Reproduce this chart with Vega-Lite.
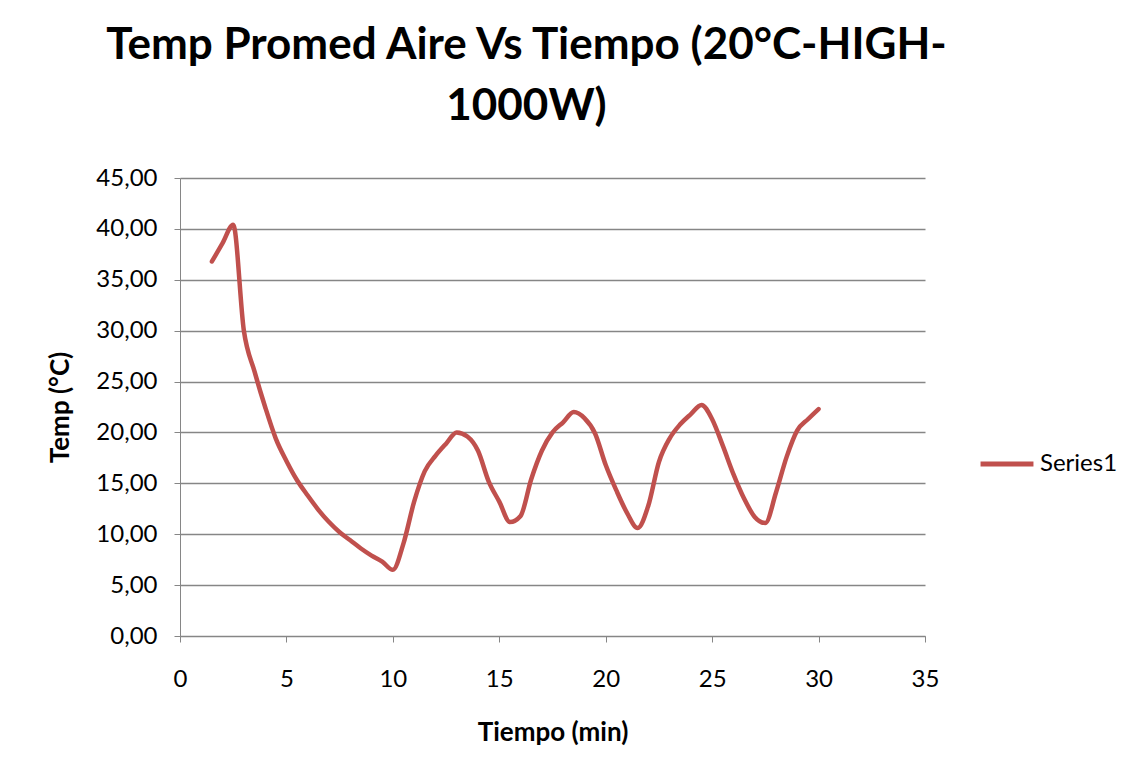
{
  "$schema": "https://vega.github.io/schema/vega-lite/v6.json",
  "width": 745,
  "height": 458,
  "autosize": {"type": "none"},
  "padding": {"left": 180, "top": 178, "right": 217, "bottom": 140},
  "background": "white",
  "title": {
    "text": ["Temp Promed Aire Vs Tiempo (20°C-HIGH-", "1000W)"],
    "font": "Lato",
    "fontSize": 44,
    "fontWeight": "bold",
    "color": "black",
    "anchor": "middle",
    "dx": -26,
    "offset": 37,
    "lineHeight": 61
  },
  "data": {
    "values": [
      {"t": 1.5, "temp": 36.8, "series": "Series1"},
      {"t": 2.0, "temp": 38.6, "series": "Series1"},
      {"t": 2.5, "temp": 40.4, "series": "Series1"},
      {"t": 3.0, "temp": 30.0, "series": "Series1"},
      {"t": 3.5, "temp": 26.0, "series": "Series1"},
      {"t": 4.0, "temp": 22.5, "series": "Series1"},
      {"t": 4.5, "temp": 19.4, "series": "Series1"},
      {"t": 5.0, "temp": 17.2, "series": "Series1"},
      {"t": 5.5, "temp": 15.3, "series": "Series1"},
      {"t": 6.0, "temp": 13.8, "series": "Series1"},
      {"t": 6.5, "temp": 12.4, "series": "Series1"},
      {"t": 7.0, "temp": 11.2, "series": "Series1"},
      {"t": 7.5, "temp": 10.2, "series": "Series1"},
      {"t": 8.0, "temp": 9.4, "series": "Series1"},
      {"t": 8.5, "temp": 8.6, "series": "Series1"},
      {"t": 9.0, "temp": 7.9, "series": "Series1"},
      {"t": 9.5, "temp": 7.3, "series": "Series1"},
      {"t": 10.0, "temp": 6.5, "series": "Series1"},
      {"t": 10.5, "temp": 9.1, "series": "Series1"},
      {"t": 11.0, "temp": 13.2, "series": "Series1"},
      {"t": 11.5, "temp": 16.2, "series": "Series1"},
      {"t": 12.0, "temp": 17.7, "series": "Series1"},
      {"t": 12.5, "temp": 18.9, "series": "Series1"},
      {"t": 13.0, "temp": 20.0, "series": "Series1"},
      {"t": 13.5, "temp": 19.6, "series": "Series1"},
      {"t": 14.0, "temp": 18.2, "series": "Series1"},
      {"t": 14.5, "temp": 15.2, "series": "Series1"},
      {"t": 15.0, "temp": 13.2, "series": "Series1"},
      {"t": 15.5, "temp": 11.2, "series": "Series1"},
      {"t": 16.0, "temp": 11.8, "series": "Series1"},
      {"t": 16.5, "temp": 15.4, "series": "Series1"},
      {"t": 17.0, "temp": 18.2, "series": "Series1"},
      {"t": 17.5, "temp": 20.0, "series": "Series1"},
      {"t": 18.0, "temp": 21.0, "series": "Series1"},
      {"t": 18.5, "temp": 22.0, "series": "Series1"},
      {"t": 19.0, "temp": 21.4, "series": "Series1"},
      {"t": 19.5, "temp": 19.9, "series": "Series1"},
      {"t": 20.0, "temp": 16.8, "series": "Series1"},
      {"t": 20.5, "temp": 14.3, "series": "Series1"},
      {"t": 21.0, "temp": 12.1, "series": "Series1"},
      {"t": 21.5, "temp": 10.6, "series": "Series1"},
      {"t": 22.0, "temp": 12.8, "series": "Series1"},
      {"t": 22.5, "temp": 17.1, "series": "Series1"},
      {"t": 23.0, "temp": 19.4, "series": "Series1"},
      {"t": 23.5, "temp": 20.8, "series": "Series1"},
      {"t": 24.0, "temp": 21.8, "series": "Series1"},
      {"t": 24.5, "temp": 22.7, "series": "Series1"},
      {"t": 25.0, "temp": 21.3, "series": "Series1"},
      {"t": 25.5, "temp": 18.7, "series": "Series1"},
      {"t": 26.0, "temp": 15.9, "series": "Series1"},
      {"t": 26.5, "temp": 13.5, "series": "Series1"},
      {"t": 27.0, "temp": 11.7, "series": "Series1"},
      {"t": 27.5, "temp": 11.1, "series": "Series1"},
      {"t": 28.0, "temp": 14.1, "series": "Series1"},
      {"t": 28.5, "temp": 17.6, "series": "Series1"},
      {"t": 29.0, "temp": 20.2, "series": "Series1"},
      {"t": 29.5, "temp": 21.3, "series": "Series1"},
      {"t": 30.0, "temp": 22.3, "series": "Series1"}
    ]
  },
  "mark": {"type": "line", "interpolate": "monotone", "strokeWidth": 4.5, "strokeCap": "round", "strokeJoin": "round"},
  "encoding": {
    "x": {
      "field": "t",
      "type": "quantitative",
      "scale": {"domain": [0, 35], "nice": false, "zero": false},
      "axis": {
        "title": "Tiempo (min)",
        "values": [0, 5, 10, 15, 20, 25, 30, 35],
        "grid": false,
        "labelFlush": false,
        "domainColor": "#868686",
        "tickColor": "#868686",
        "tickSize": 6,
        "labelPadding": 25,
        "labelFontSize": 24,
        "labelFont": "Lato",
        "labelColor": "black",
        "titleFont": "Lato",
        "titleFontSize": 26,
        "titleFontWeight": "bold",
        "titleColor": "black",
        "titlePadding": 28
      }
    },
    "y": {
      "field": "temp",
      "type": "quantitative",
      "scale": {"domain": [0, 45], "nice": false},
      "axis": {
        "title": "Temp (°C)",
        "values": [0, 5, 10, 15, 20, 25, 30, 35, 40, 45],
        "labelExpr": "replace(format(datum.value, '.2f'), '.', ',')",
        "labelFlush": false,
        "grid": true,
        "gridColor": "#868686",
        "gridWidth": 1.5,
        "gridOpacity": 1,
        "domainColor": "#868686",
        "tickColor": "#868686",
        "tickSize": 6,
        "labelPadding": 17,
        "labelFontSize": 24,
        "labelFont": "Lato",
        "labelColor": "black",
        "titleFont": "Lato",
        "titleFontSize": 26,
        "titleFontWeight": "bold",
        "titleColor": "black",
        "titlePadding": 22
      }
    },
    "color": {
      "field": "series",
      "type": "nominal",
      "scale": {"range": ["#C0504D"]},
      "legend": {
        "title": null,
        "orient": "none",
        "legendX": 798,
        "legendY": 257,
        "symbolType": "stroke",
        "symbolSize": 2800,
        "symbolStrokeWidth": 5,
        "labelFontSize": 24,
        "labelFont": "Lato",
        "labelColor": "black",
        "labelOffset": 4
      }
    }
  },
  "config": {"view": {"stroke": null}}
}
